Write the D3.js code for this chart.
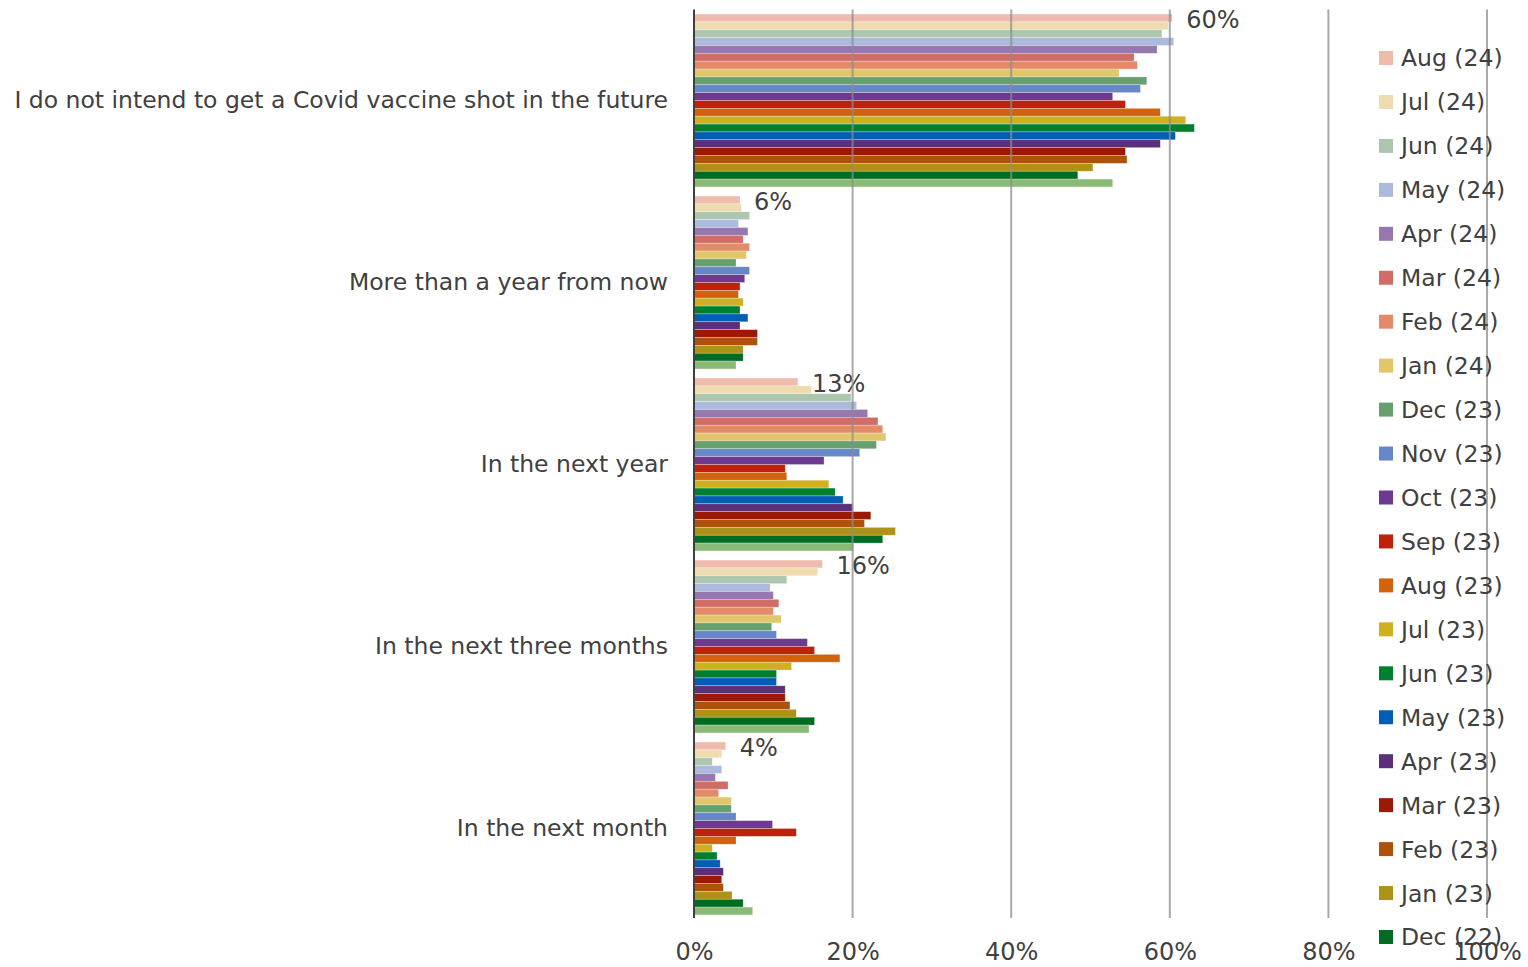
<!DOCTYPE html>
<html>
<head>
<meta charset="utf-8">
<script src="https://cdn.jsdelivr.net/npm/d3@7"></script>
<style>
  body { margin: 0; background: #fff; }
  text { font-family: "DejaVu Sans", Verdana, sans-serif; fill: #404040; }
</style>
</head>
<body>
<div id="chart"></div>
<script>
var svgWidth = 1528;
var svgHeight = 967;

// Categories, top to bottom
var categories = [
  "I do not intend to get a Covid vaccine shot in the future",
  "More than a year from now",
  "In the next year",
  "In the next three months",
  "In the next month"
];

// Survey waves (the last one is cut off in the legend)
var waves = ["Aug (24)", "Jul (24)", "Jun (24)", "May (24)", "Apr (24)", "Mar (24)",
  "Feb (24)", "Jan (24)", "Dec (23)", "Nov (23)", "Oct (23)", "Sep (23)", "Aug (23)",
  "Jul (23)", "Jun (23)", "May (23)", "Apr (23)", "Mar (23)", "Feb (23)", "Jan (23)",
  "Dec (22)", "Nov (22)"];

var colors = ["#eebbad", "#eedcaf", "#adc7af", "#acbadd", "#9677b0", "#d26c68",
  "#e38a69", "#e2c66c", "#67a06f", "#6787c8", "#6e3a90", "#c0210a", "#d2630e",
  "#cfb020", "#007f2e", "#005eb4", "#5b2f7a", "#9c1a05", "#ae510a", "#ae9218",
  "#006b22", "#8aba76"];

// Percent values per category, one per wave (same order as waves)
var notIntend = [60.3, 59.8, 59.0, 60.5, 58.4, 55.5, 55.9, 53.6, 57.1, 56.3, 52.8,
  54.4, 58.8, 62.0, 63.1, 60.7, 58.8, 54.4, 54.6, 50.3, 48.4, 52.8];
var moreThanYear = [5.8, 6.0, 7.0, 5.6, 6.8, 6.2, 7.0, 6.6, 5.3, 7.0, 6.4,
  5.8, 5.6, 6.2, 5.8, 6.8, 5.8, 8.0, 8.0, 6.2, 6.2, 5.3];
var nextYear = [13.1, 14.8, 19.8, 20.5, 21.9, 23.2, 23.8, 24.2, 23.0, 20.9, 16.4,
  11.5, 11.7, 17.0, 17.8, 18.8, 20.0, 22.3, 21.5, 25.4, 23.8, 20.1];
var nextThreeMonths = [16.2, 15.6, 11.7, 9.6, 10.0, 10.7, 10.0, 11.0, 9.8, 10.4, 14.3,
  15.2, 18.4, 12.3, 10.4, 10.4, 11.5, 11.5, 12.1, 12.9, 15.2, 14.5];
var nextMonth = [4.0, 3.5, 2.3, 3.5, 2.7, 4.3, 3.1, 4.7, 4.7, 5.3, 9.9,
  12.9, 5.3, 2.3, 2.9, 3.3, 3.7, 3.5, 3.7, 4.8, 6.2, 7.4];

var xTicks = [0, 20, 40, 60, 80, 100];

var valueRows = [notIntend, moreThanYear, nextYear, nextThreeMonths, nextMonth];

var margin = { top: 9.5, left: 694, right: 41, bottom: 48 };
var plotWidth = 1487 - margin.left;
var plotHeight = 919.5 - margin.top;

var svg = d3.select("#chart")
  .append("svg")
  .attr("width", svgWidth)
  .attr("height", svgHeight);

var chartGroup = svg.append("g")
  .attr("transform", `translate(${margin.left}, ${margin.top})`);

// Scales
var xScale = d3.scaleLinear()
  .domain([0, 100])
  .range([0, plotWidth]);

var yScale = d3.scaleBand()
  .domain(categories)
  .range([0, plotHeight])
  .paddingInner(0.05)
  .paddingOuter(0.025);

var ySub = d3.scaleBand()
  .domain(waves)
  .range([0, yScale.bandwidth()]);

// Bars
var groups = chartGroup.selectAll(".group")
  .data(categories)
  .enter()
  .append("g")
  .attr("class", "group")
  .attr("transform", d => `translate(0, ${yScale(d)})`);

groups.selectAll("rect")
  .data((d, i) => valueRows[i].map((v, j) => ({ wave: waves[j], value: v, color: colors[j] })))
  .enter()
  .append("rect")
  .attr("x", 0)
  .attr("y", d => ySub(d.wave))
  .attr("width", d => xScale(d.value))
  .attr("height", ySub.bandwidth())
  .attr("fill", d => d.color)
  .attr("stroke", "rgba(255,255,255,0.45)")
  .attr("stroke-width", 0.6);

// Data labels on the latest wave only
groups.append("text")
  .attr("x", (d, i) => xScale(valueRows[i][0]) + 14)
  .attr("y", ySub(waves[0]) + ySub.bandwidth() / 2 + 2)
  .attr("dy", "0.35em")
  .attr("font-size", "24px")
  .text((d, i) => Math.round(valueRows[i][0]) + "%");

// Legend (entries past the bottom edge are dropped, as in the original)
var legendTop = 58;
var legendStep = 43.95;
var legendWaves = waves.filter((d, i) => legendTop + i * legendStep < svgHeight - 20);

var legend = svg.append("g")
  .attr("transform", `translate(1379, ${legendTop})`);

var legendItems = legend.selectAll(".item")
  .data(legendWaves)
  .enter()
  .append("g")
  .attr("class", "item")
  .attr("transform", (d, i) => `translate(0, ${i * legendStep})`);

legendItems.append("rect")
  .attr("x", 0)
  .attr("y", -7)
  .attr("width", 14)
  .attr("height", 14)
  .attr("fill", (d, i) => colors[i]);

legendItems.append("text")
  .attr("x", 22)
  .attr("y", 0)
  .attr("dy", "0.36em")
  .attr("font-size", "23.5px")
  .text(d => d);

// Gridlines (drawn over the bars)
chartGroup.selectAll(".grid")
  .data(xTicks.filter(t => t > 0))
  .enter()
  .append("line")
  .attr("class", "grid")
  .attr("x1", d => xScale(d))
  .attr("x2", d => xScale(d))
  .attr("y1", 0)
  .attr("y2", plotHeight - 1.5)
  .attr("stroke", "#8c8c8c")
  .attr("stroke-opacity", 0.75)
  .attr("stroke-width", 2);

chartGroup.append("line")
  .attr("x1", 0)
  .attr("x2", 0)
  .attr("y1", 0)
  .attr("y2", plotHeight - 1.5)
  .attr("stroke", "#404040")
  .attr("stroke-width", 2);

// Axes
var bottomAxis = d3.axisBottom(xScale)
  .tickValues(xTicks)
  .tickSize(0)
  .tickPadding(23)
  .tickFormat(d => d + "%");

var leftAxis = d3.axisLeft(yScale)
  .tickSize(0)
  .tickPadding(26);

var xAxisGroup = chartGroup.append("g")
  .attr("transform", `translate(0, ${plotHeight})`)
  .call(bottomAxis);
xAxisGroup.select(".domain").remove();
xAxisGroup.selectAll("text")
  .attr("font-size", "24px")
  .attr("font-family", "DejaVu Sans, Verdana, sans-serif")
  .attr("fill", "#404040");

var yAxisGroup = chartGroup.append("g")
  .call(leftAxis);
yAxisGroup.select(".domain").remove();
yAxisGroup.selectAll("text")
  .attr("font-size", "23.5px")
  .attr("font-family", "DejaVu Sans, Verdana, sans-serif")
  .attr("fill", "#404040");
</script>
</body>
</html>
